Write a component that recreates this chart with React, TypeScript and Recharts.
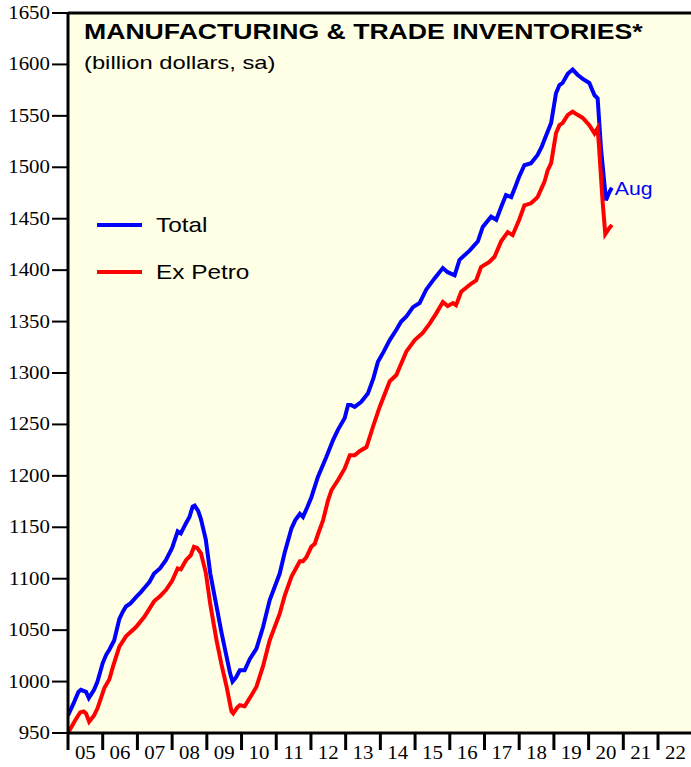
import { LineChart, Line, XAxis, YAxis, ReferenceArea, ReferenceLine, Legend } from 'recharts';

// decimal year, billion dollars
const totalPoints: [number, number][] = [
  [2005.0, 967], [2005.15, 978], [2005.3, 990], [2005.37, 992], [2005.52, 990], [2005.6, 984],
  [2005.75, 992], [2005.85, 1000], [2006.0, 1018], [2006.1, 1026], [2006.19, 1031], [2006.33, 1040],
  [2006.48, 1061], [2006.58, 1068], [2006.67, 1073], [2006.8, 1076], [2006.96, 1082], [2007.1, 1087],
  [2007.2, 1091], [2007.35, 1097], [2007.48, 1105], [2007.65, 1110], [2007.82, 1118], [2008.0, 1130],
  [2008.16, 1146], [2008.25, 1144], [2008.4, 1154], [2008.5, 1160], [2008.59, 1170], [2008.65, 1171],
  [2008.75, 1166], [2008.83, 1158], [2008.97, 1138], [2009.1, 1105], [2009.28, 1073], [2009.42, 1048],
  [2009.57, 1024], [2009.67, 1008], [2009.74, 1000], [2009.84, 1004], [2009.95, 1011], [2010.09, 1011],
  [2010.24, 1022], [2010.43, 1032], [2010.62, 1053], [2010.81, 1079], [2011.1, 1105], [2011.24, 1125],
  [2011.44, 1149], [2011.55, 1157], [2011.68, 1163], [2011.77, 1160], [2011.9, 1170], [2012.01, 1179],
  [2012.2, 1199], [2012.44, 1218], [2012.64, 1235], [2012.78, 1245], [2012.97, 1256], [2013.07, 1269],
  [2013.15, 1269], [2013.26, 1267], [2013.45, 1272], [2013.64, 1280], [2013.8, 1295], [2013.93, 1311],
  [2014.1, 1321], [2014.27, 1332], [2014.46, 1342], [2014.6, 1350], [2014.75, 1355], [2014.94, 1364],
  [2015.13, 1368], [2015.32, 1381], [2015.56, 1392], [2015.8, 1402], [2015.94, 1398], [2016.14, 1395],
  [2016.28, 1410], [2016.57, 1419], [2016.81, 1428], [2016.95, 1442], [2017.19, 1452], [2017.34, 1449],
  [2017.5, 1463], [2017.62, 1473], [2017.77, 1471], [2017.9, 1482], [2018.0, 1491], [2018.15, 1502],
  [2018.34, 1504], [2018.53, 1512], [2018.65, 1520], [2018.73, 1527], [2018.92, 1543], [2019.06, 1572],
  [2019.16, 1580], [2019.25, 1582], [2019.4, 1591], [2019.54, 1595], [2019.68, 1590], [2019.83, 1586],
  [2020.02, 1582], [2020.17, 1570], [2020.26, 1567], [2020.36, 1517], [2020.5, 1468], [2020.6, 1476],
  [2020.67, 1480],
];

const exPetroPoints: [number, number][] = [
  [2005.0, 950], [2005.2, 962], [2005.35, 970], [2005.45, 971], [2005.52, 969], [2005.61, 961],
  [2005.75, 967], [2005.85, 974], [2006.05, 994], [2006.19, 1002], [2006.3, 1015], [2006.48, 1034],
  [2006.67, 1044], [2006.96, 1053], [2007.2, 1063], [2007.48, 1078], [2007.65, 1083], [2007.82, 1089],
  [2008.0, 1098], [2008.16, 1110], [2008.25, 1109], [2008.4, 1118], [2008.54, 1123], [2008.63, 1131],
  [2008.72, 1130], [2008.83, 1125], [2008.97, 1106], [2009.1, 1075], [2009.28, 1040], [2009.42, 1017],
  [2009.57, 995], [2009.71, 971], [2009.76, 969], [2009.88, 975], [2009.95, 977], [2010.09, 976],
  [2010.29, 987], [2010.43, 995], [2010.62, 1015], [2010.81, 1040], [2011.1, 1066], [2011.24, 1083],
  [2011.44, 1102], [2011.68, 1117], [2011.77, 1117], [2011.87, 1121], [2012.01, 1131], [2012.11, 1134],
  [2012.2, 1143], [2012.35, 1157], [2012.49, 1176], [2012.59, 1186], [2012.78, 1196], [2012.97, 1207],
  [2013.12, 1220], [2013.26, 1220], [2013.4, 1224], [2013.6, 1228], [2013.79, 1248], [2013.98, 1267],
  [2014.27, 1292], [2014.46, 1298], [2014.75, 1321], [2014.99, 1332], [2015.22, 1339], [2015.42, 1348],
  [2015.61, 1358], [2015.8, 1369], [2015.94, 1365], [2016.09, 1368], [2016.18, 1366], [2016.33, 1379],
  [2016.62, 1387], [2016.76, 1390], [2016.9, 1403], [2017.14, 1408], [2017.29, 1413], [2017.48, 1428],
  [2017.67, 1437], [2017.81, 1434], [2018.0, 1449], [2018.15, 1463], [2018.34, 1465], [2018.53, 1471],
  [2018.73, 1486], [2018.82, 1497], [2018.92, 1504], [2019.06, 1533], [2019.16, 1541], [2019.25, 1543],
  [2019.4, 1551], [2019.54, 1554], [2019.68, 1551], [2019.83, 1548], [2020.02, 1541], [2020.17, 1533],
  [2020.26, 1538], [2020.3, 1520], [2020.4, 1468], [2020.48, 1435], [2020.6, 1441], [2020.67, 1444],
];

const yearTicks = [2005, 2006, 2007, 2008, 2009, 2010, 2011, 2012, 2013, 2014, 2015, 2016, 2017, 2018, 2019, 2020, 2021, 2022];
const valueTicks = [950, 1000, 1050, 1100, 1150, 1200, 1250, 1300, 1350, 1400, 1450, 1500, 1550, 1600, 1650];
const seriesNames = ['Total', 'Ex Petro'];
const lastLabel = 'Aug';

const totalData = totalPoints.map(([year, value]) => ({ year, value }));
const exPetroData = exPetroPoints.map(([year, value]) => ({ year, value }));

const xDomain = [2005, 2022.95];
const yearWidth = 34.7;
const serif = '"Liberation Serif", "Times New Roman", serif';
const sans = '"Liberation Sans", Arial, sans-serif';

const YearTick = ({ x, y, payload }: any) => (
  <g>
    <line x1={x} y1={y} x2={x} y2={y + 17} stroke="#000" strokeWidth={3} />
    <text
      transform={`translate(${x + yearWidth / 2},${y + 26}) scale(1.13,1)`}
      textAnchor="middle"
      fontFamily={serif}
      fontSize={18.5}
      fill="#000"
    >
      {String(payload.value).slice(2)}
    </text>
  </g>
);

const ValueTick = ({ x, y, payload }: any) => (
  <g>
    <line x1={x - 16} y1={y} x2={x} y2={y} stroke="#000" strokeWidth={2} />
    <text
      transform={`translate(${x - 18},${y + 6}) scale(1.13,1)`}
      textAnchor="end"
      fontFamily={serif}
      fontSize={18.5}
      fill="#000"
    >
      {payload.value}
    </text>
  </g>
);

const LegendBox = ({ payload }: any) => {
  const items = [...(payload || [])].sort(
    (a: any, b: any) => seriesNames.indexOf(a.value) - seriesNames.indexOf(b.value)
  );
  return (
    <div style={{ fontFamily: sans, fontSize: 21 }}>
      {items.map((item: any) => (
        <div key={item.value} style={{ display: 'flex', alignItems: 'center', height: 47 }}>
          <svg width={59} height={8}>
            <line x1={0} y1={4} x2={45} y2={4} stroke={item.color} strokeWidth={4} />
          </svg>
          <span style={{ display: 'inline-block', transform: 'scaleX(1.16)', transformOrigin: 'left center' }}>
            {item.value}
          </span>
        </div>
      ))}
    </div>
  );
};

const AugLabel = ({ x, y, index }: any) =>
  index === totalData.length - 1 ? (
    <text transform={`translate(${x + 3},${y + 7}) scale(1.18,1)`} fill="#0000FF" fontFamily={sans} fontSize={18}>
      {lastLabel}
    </text>
  ) : null;

export default function App() {
  return (
    <div style={{ position: 'absolute', left: 0, top: 0, width: 691, height: 767, background: '#fff' }}>
      <LineChart width={691} height={767} margin={{ top: 13, right: 0, bottom: 0, left: 0 }}>
        <XAxis
          dataKey="year"
          type="number"
          domain={xDomain}
          ticks={yearTicks}
          interval={0}
          allowDataOverflow
          height={34}
          tickSize={0}
          tickMargin={0}
          tick={<YearTick />}
          axisLine={{ stroke: '#000', strokeWidth: 3 }}
        />
        <YAxis
          type="number"
          domain={[950, 1650]}
          ticks={valueTicks}
          interval={0}
          width={68}
          tickSize={0}
          tickMargin={0}
          tick={<ValueTick />}
          axisLine={{ stroke: '#000', strokeWidth: 3 }}
        />
        <ReferenceArea x1={2005} x2={2022.95} y1={950} y2={1650} fill="#FFFFE6" fillOpacity={1} stroke="none" />
        <ReferenceLine y={1650} stroke="#000" strokeWidth={3} />
        <Legend
          layout="vertical"
          align="center"
          verticalAlign="middle"
          content={<LegendBox />}
          wrapperStyle={{ position: 'absolute', left: 97, top: 201, width: 200 }}
        />
        <Line
          data={totalData}
          dataKey="value"
          name="Total"
          stroke="#0000FF"
          strokeWidth={4}
          dot={false}
          type="linear"
          isAnimationActive={false}
          label={<AugLabel />}
        />
        <Line
          data={exPetroData}
          dataKey="value"
          name="Ex Petro"
          stroke="#FF0000"
          strokeWidth={4}
          dot={false}
          type="linear"
          isAnimationActive={false}
        />
      </LineChart>
      <div
        style={{
          position: 'absolute', left: 84, top: 21, fontFamily: sans, fontWeight: 'bold', fontSize: 22,
          lineHeight: '22px', whiteSpace: 'nowrap', transform: 'scaleX(1.21)', transformOrigin: 'left top',
        }}
      >
        MANUFACTURING &amp; TRADE INVENTORIES*
      </div>
      <div
        style={{
          position: 'absolute', left: 84, top: 53, fontFamily: sans, fontSize: 19, lineHeight: '19px',
          whiteSpace: 'nowrap', transform: 'scaleX(1.25)', transformOrigin: 'left top',
        }}
      >
        (billion dollars, sa)
      </div>
    </div>
  );
}
